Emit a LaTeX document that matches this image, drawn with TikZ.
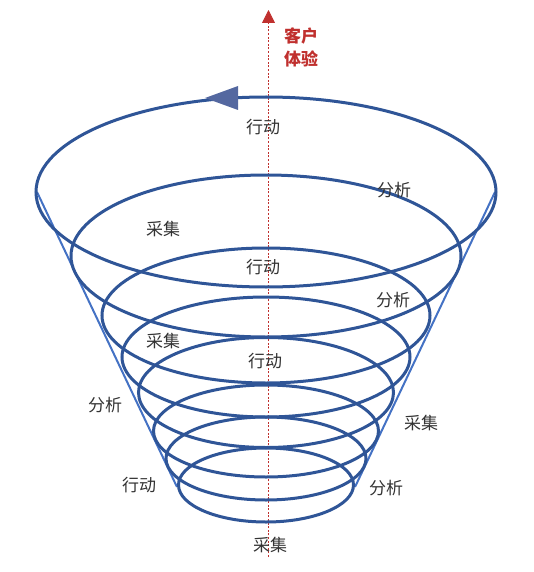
\documentclass[tikz,border=0pt]{standalone}
\usepackage{fontspec}
\setmainfont{Noto Sans CJK SC}
\usetikzlibrary{arrows.meta, positioning}
\definecolor{mRing}{HTML}{2F5597}
\definecolor{mSide}{HTML}{4472C4}
\definecolor{mHead}{HTML}{5468A0}
\definecolor{mRed}{HTML}{C0302E}

\begin{document}
\begin{tikzpicture}[x=1pt, y=-1pt,
    ring/.style={draw=mRing, line width=3pt},
    side/.style={draw=mSide, line width=2pt},
    lbl/.style={font=\fontsize{17}{20}\selectfont, text=black!80}]
  \useasboundingbox (0,0) rectangle (534,572);
  % axis: customer experience
  \coordinate (axbot) at (268.5,557);
  \coordinate (axtop) at (268.5,10);
  \draw[mRed, line width=0.8pt, dash pattern=on 2pt off 1.6pt,
        -{Triangle[length=13pt, width=13pt]}] (axbot) -- (axtop);
  \node[align=left, text=mRed, font=\fontsize{17}{23}\selectfont\bfseries]
        (cx) at (301,47) {客户\\体验};
  % funnel sides
  \draw[side] (37,192) -- (177,487);
  \draw[side] (495,192) -- (355,487);
  % rings, top to bottom: centre y / half width / half height
  \foreach \cy/\a/\b in {192/230/95, 256/195/81, 315.5/164/67.5, 357/144/60,
      392.5/127.5/55, 431/112.5/46, 458.5/100/41.5, 485/87.5/37} {
    \draw[ring] (266,\cy) ellipse ({\a} and {\b});
  }
  \fill[mHead] (205,98) -- (238,86) -- (238,110) -- cycle;
  % labels
  \node[lbl] (act1) at (263,127) {行动};
  \node[lbl] (ana1) at (394,190) {分析};
  \node[lbl] (col1) at (163,229) {采集};
  \node[lbl] (act2) at (263,267) {行动};
  \node[lbl] (ana2) at (393,300) {分析};
  \node[lbl] (col2) at (163,341) {采集};
  \node[lbl] (act3) at (265,361) {行动};
  \node[lbl] (ana3) at (105,405) {分析};
  \node[lbl] (col3) at (421,423) {采集};
  \node[lbl] (act4) at (139,485) {行动};
  \node[lbl] (ana4) at (386,488) {分析};
  \node[lbl] (col4) at (270,545) {采集};
\end{tikzpicture}
\end{document}
